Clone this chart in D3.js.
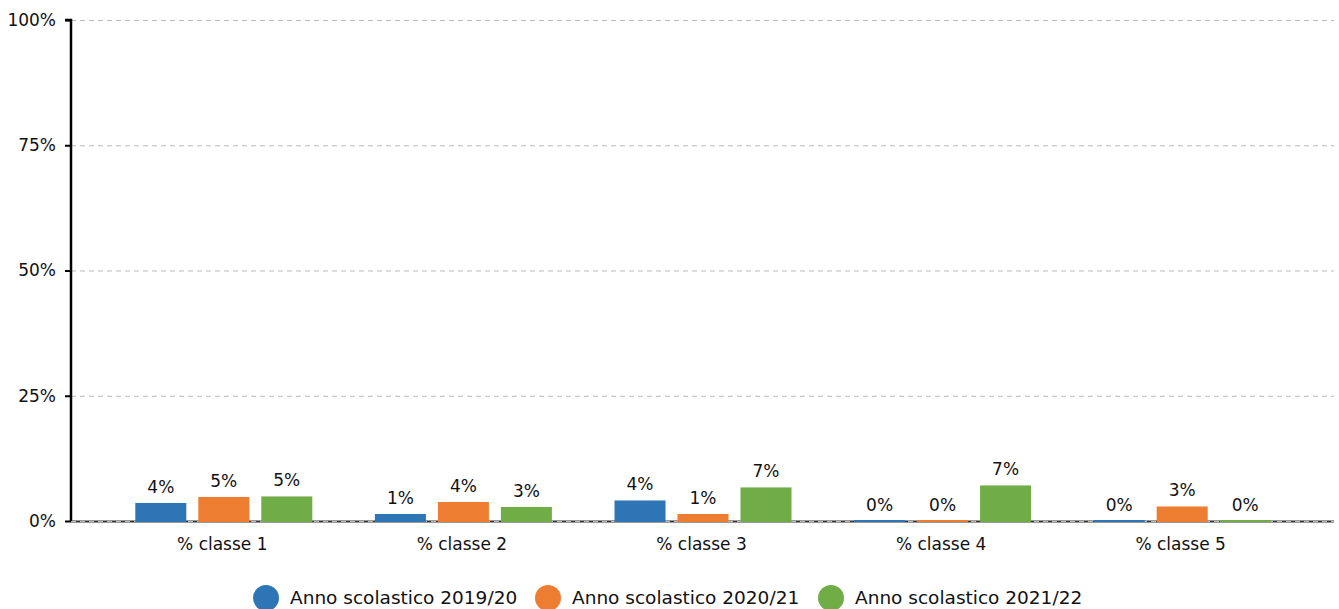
<!DOCTYPE html>
<html lang="it">
<head>
<meta charset="UTF-8">
<script src="https://d3js.org/d3.v7.min.js"></script>
<title>Classi</title>
<style>
    body { margin: 0; background: #fff; }
    text { font-family: "DejaVu Sans", sans-serif; fill: #111; }
    .grid line { stroke: #bbb; stroke-dasharray: 5 4; }
</style>
</head>
<body>
<svg id="chart" width="1339" height="609"></svg>
<script>
// data
var categories = ["% classe 1", "% classe 2", "% classe 3", "% classe 4", "% classe 5"];
var series = ["Anno scolastico 2019/20", "Anno scolastico 2020/21", "Anno scolastico 2021/22"];
var v2019 = [3.6, 1.4, 4.1, 0, 0];
var v2020 = [4.8, 3.8, 1.4, 0, 2.9];
var v2021 = [4.9, 2.8, 6.7, 7.1, 0];
var yTicks = [0, 25, 50, 75, 100];
var colors = ["#2e75b6", "#ed7d31", "#70ad47"];

var values = [v2019, v2020, v2021];
var svg = d3.select("#chart");

var mLeft = 71, mRight = 1334, mTop = 20, mBottom = 521;

var y = d3.scaleLinear().domain([0, 100]).range([mBottom, mTop]);
var x = d3.scaleBand().domain(categories).range([104, 1302]);
var bw = x.bandwidth();
var xs = d3.scaleBand().domain(d3.range(series.length))
    .range([bw / 2 - 88.5, bw / 2 + 88.5]).paddingInner(0.19);

// gridlines
svg.append("g").attr("class", "grid")
    .selectAll("line").data(yTicks.filter(d => d > 0)).join("line")
    .attr("x1", mLeft).attr("x2", mRight)
    .attr("y1", d => y(d) + 0.5).attr("y2", d => y(d) + 0.5);

// baseline
svg.append("line").attr("x1", mLeft).attr("x2", mRight)
    .attr("y1", mBottom + 0.5).attr("y2", mBottom + 0.5)
    .attr("stroke", "#333").attr("stroke-width", 2);
svg.append("line").attr("x1", mLeft).attr("x2", mRight)
    .attr("y1", mBottom + 0.5).attr("y2", mBottom + 0.5)
    .attr("stroke", "#bbb").attr("stroke-width", 1).attr("stroke-dasharray", "5 4");

// bars
var rows = [];
categories.forEach(function(c, i) {
    series.forEach(function(s, j) {
        rows.push({cat: c, s: j, v: values[j][i]});
    });
});

var bars = svg.append("g").selectAll("g").data(rows).join("g")
    .attr("transform", d => "translate(" + (x(d.cat) + xs(d.s)) + ",0)");

bars.append("rect")
    .attr("x", 0)
    .attr("width", xs.bandwidth())
    .attr("y", d => Math.min(y(d.v), mBottom - 1))
    .attr("height", d => Math.max(mBottom - y(d.v), 1) + 1)
    .attr("fill", d => colors[d.s]);

bars.append("text")
    .attr("x", xs.bandwidth() / 2)
    .attr("y", d => y(d.v) - 10)
    .attr("text-anchor", "middle")
    .attr("font-size", 17)
    .text(d => Math.round(d.v) + "%");

// y axis
var yAxis = d3.axisLeft(y).tickValues(yTicks).tickSize(6).tickFormat(d => d + "%");
var ga = svg.append("g").attr("transform", "translate(" + mLeft + ",0)").call(yAxis);
ga.select(".domain").attr("stroke", "#000").attr("stroke-width", 2.5).attr("d", "M-6," + mTop + "H0V" + mBottom);
ga.selectAll(".tick line").attr("stroke", "#000").attr("stroke-width", 2);
ga.selectAll(".tick text").attr("font-size", 17).attr("x", -15)
    .style("font-family", "DejaVu Sans, sans-serif").attr("fill", "#111");

// x labels
svg.append("g").selectAll("text").data(categories).join("text")
    .attr("x", d => x(d) + bw / 2 - 1.5)
    .attr("y", 550)
    .attr("text-anchor", "middle")
    .attr("font-size", 17)
    .text(d => d);

// legend
var legX = [266, 548, 831];
var leg = svg.append("g").selectAll("g").data(series).join("g")
    .attr("transform", (d, i) => "translate(" + legX[i] + ",598)");
leg.append("circle").attr("r", 13).attr("fill", (d, i) => colors[i]);
leg.append("text").attr("x", 24).attr("y", 6).attr("font-size", 18.5).text(d => d);
</script>
</body>
</html>
